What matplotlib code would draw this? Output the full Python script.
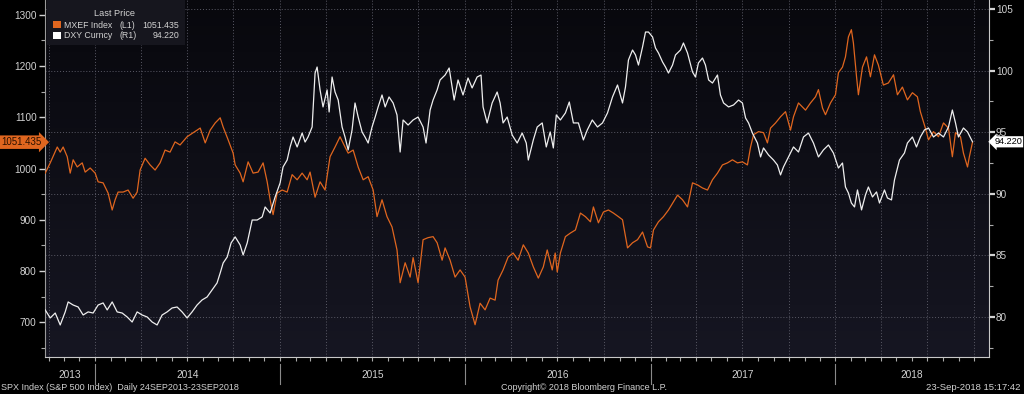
import datetime as dt
import numpy as np
import matplotlib
matplotlib.use("Agg")
import matplotlib.pyplot as plt
import matplotlib.dates as mdates
from matplotlib.transforms import blended_transform_factory
from matplotlib.patches import Rectangle
from matplotlib.lines import Line2D
from matplotlib.colors import LinearSegmentedColormap

# ---------------- data (decimal years) ----------------
mxef_t = [2013.730, 2013.757, 2013.795, 2013.811, 2013.827, 2013.849, 2013.865, 2013.881, 2013.903, 2013.930,
          2013.946, 2013.973, 2014.000, 2014.016, 2014.043, 2014.070, 2014.092, 2014.108, 2014.124, 2014.151,
          2014.178, 2014.205, 2014.227, 2014.243, 2014.270, 2014.297, 2014.324, 2014.351, 2014.378, 2014.405,
          2014.432, 2014.459, 2014.497, 2014.530, 2014.568, 2014.595, 2014.622, 2014.649, 2014.676, 2014.692,
          2014.719, 2014.746, 2014.757, 2014.784, 2014.800, 2014.827, 2014.854, 2014.881, 2014.908, 2014.930,
          2014.946, 2014.962, 2014.984, 2015.011, 2015.038, 2015.065, 2015.092, 2015.119, 2015.146, 2015.162,
          2015.189, 2015.216, 2015.243, 2015.270, 2015.297, 2015.324, 2015.351, 2015.368, 2015.395, 2015.422,
          2015.449, 2015.476, 2015.503, 2015.524, 2015.551, 2015.578, 2015.605, 2015.632, 2015.649, 2015.676,
          2015.703, 2015.719, 2015.746, 2015.773, 2015.800, 2015.827, 2015.849, 2015.876, 2015.892, 2015.919,
          2015.946, 2015.973, 2016.000, 2016.027, 2016.054, 2016.081, 2016.108, 2016.135, 2016.162, 2016.178,
          2016.205, 2016.232, 2016.259, 2016.286, 2016.314, 2016.341, 2016.368, 2016.395, 2016.422, 2016.443,
          2016.470, 2016.486, 2016.497, 2016.514, 2016.541, 2016.568, 2016.595, 2016.622, 2016.649, 2016.676,
          2016.692, 2016.719, 2016.746, 2016.773, 2016.800, 2016.827, 2016.849, 2016.876, 2016.903, 2016.930,
          2016.957, 2016.984, 2017.000, 2017.016, 2017.043, 2017.070, 2017.097, 2017.124, 2017.146, 2017.173,
          2017.200, 2017.227, 2017.254, 2017.281, 2017.308, 2017.335, 2017.362, 2017.389, 2017.416, 2017.443,
          2017.470, 2017.497, 2017.524, 2017.541, 2017.557, 2017.584, 2017.611, 2017.632, 2017.649, 2017.676,
          2017.703, 2017.730, 2017.757, 2017.773, 2017.800, 2017.838, 2017.865, 2017.892, 2017.908, 2017.930,
          2017.946, 2017.973, 2018.000, 2018.016, 2018.038, 2018.054, 2018.070, 2018.086, 2018.097, 2018.114,
          2018.124, 2018.146, 2018.168, 2018.189, 2018.211, 2018.232, 2018.259, 2018.286, 2018.314, 2018.335,
          2018.362, 2018.389, 2018.416, 2018.443, 2018.459, 2018.486, 2018.503, 2018.530, 2018.557, 2018.584,
          2018.611, 2018.632, 2018.649, 2018.676, 2018.692, 2018.714, 2018.724, 2018.741]
mxef_v = [991, 1011, 1042, 1032, 1042, 1023, 991, 1017, 1003, 1011,
          993, 1001, 991, 974, 972, 952, 919, 939, 954, 954,
          958, 942, 954, 997, 1020, 1007, 997, 1011, 1036, 1032,
          1052, 1046, 1062, 1070, 1079, 1050, 1075, 1089, 1099, 1081,
          1056, 1030, 1007, 991, 974, 1013, 991, 993, 1011, 974,
          939, 910, 952, 958, 954, 988, 978, 991, 978, 993,
          944, 974, 958, 1023, 1042, 1062, 1042, 1030, 1036, 1003,
          978, 984, 958, 906, 939, 906, 886, 841, 777, 816,
          788, 826, 777, 861, 865, 867, 855, 821, 845, 821,
          788, 802, 788, 730, 695, 737, 724, 747, 743, 782,
          802, 827, 835, 821, 851, 835, 808, 786, 808, 841,
          802, 835, 798, 835, 867, 874, 880, 913, 906, 896,
          925, 894, 915, 919, 913, 906, 900, 845, 855, 861,
          876, 847, 845, 880, 896, 906, 919, 935, 948, 939,
          925, 972, 968, 962, 958, 978, 991, 1007, 1011, 1017,
          1011, 1013, 1007, 1042, 1066, 1072, 1070, 1050, 1079, 1089,
          1101, 1111, 1075, 1101, 1128, 1114, 1128, 1140, 1154, 1118,
          1105, 1128, 1144, 1187, 1198, 1218, 1257, 1271, 1245, 1179,
          1144, 1198, 1218, 1179, 1222, 1202, 1163, 1167, 1183, 1144,
          1159, 1134, 1148, 1140, 1111, 1079, 1056, 1072, 1062, 1089,
          1079, 1023, 1070, 1062, 1030, 1003, 1023, 1051.435]

dxy_t = [2013.730, 2013.757, 2013.784, 2013.811, 2013.838, 2013.854, 2013.881, 2013.908, 2013.935, 2013.962,
         2013.989, 2014.016, 2014.043, 2014.065, 2014.092, 2014.119, 2014.146, 2014.173, 2014.200, 2014.227,
         2014.254, 2014.281, 2014.308, 2014.335, 2014.362, 2014.389, 2014.416, 2014.443, 2014.470, 2014.497,
         2014.524, 2014.551, 2014.578, 2014.605, 2014.632, 2014.659, 2014.676, 2014.692, 2014.714, 2014.735,
         2014.757, 2014.784, 2014.800, 2014.822, 2014.849, 2014.876, 2014.903, 2014.919, 2014.946, 2014.973,
         2015.000, 2015.016, 2015.038, 2015.054, 2015.070, 2015.092, 2015.119, 2015.135, 2015.151, 2015.173,
         2015.189, 2015.200, 2015.216, 2015.232, 2015.254, 2015.265, 2015.281, 2015.297, 2015.314, 2015.335,
         2015.351, 2015.368, 2015.389, 2015.405, 2015.422, 2015.443, 2015.459, 2015.476, 2015.497, 2015.514,
         2015.530, 2015.551, 2015.568, 2015.589, 2015.611, 2015.632, 2015.649, 2015.665, 2015.692, 2015.719,
         2015.746, 2015.773, 2015.789, 2015.811, 2015.827, 2015.849, 2015.865, 2015.892, 2015.914, 2015.930,
         2015.941, 2015.962, 2015.989, 2016.016, 2016.038, 2016.065, 2016.086, 2016.097, 2016.119, 2016.146,
         2016.173, 2016.189, 2016.205, 2016.227, 2016.254, 2016.281, 2016.308, 2016.330, 2016.341, 2016.368,
         2016.389, 2016.416, 2016.438, 2016.459, 2016.476, 2016.492, 2016.514, 2016.541, 2016.562, 2016.584,
         2016.611, 2016.638, 2016.659, 2016.686, 2016.714, 2016.741, 2016.768, 2016.795, 2016.822, 2016.849,
         2016.865, 2016.881, 2016.903, 2016.919, 2016.935, 2016.957, 2016.973, 2016.989, 2017.011, 2017.027,
         2017.043, 2017.065, 2017.081, 2017.097, 2017.119, 2017.135, 2017.162, 2017.178, 2017.200, 2017.227,
         2017.243, 2017.259, 2017.281, 2017.297, 2017.314, 2017.335, 2017.362, 2017.378, 2017.395, 2017.422,
         2017.449, 2017.476, 2017.497, 2017.514, 2017.530, 2017.551, 2017.578, 2017.595, 2017.611, 2017.638,
         2017.665, 2017.686, 2017.703, 2017.719, 2017.746, 2017.773, 2017.800, 2017.827, 2017.854, 2017.881,
         2017.908, 2017.935, 2017.962, 2017.989, 2018.016, 2018.038, 2018.054, 2018.070, 2018.086, 2018.103,
         2018.119, 2018.141, 2018.162, 2018.178, 2018.200, 2018.222, 2018.238, 2018.265, 2018.281, 2018.303,
         2018.319, 2018.346, 2018.373, 2018.389, 2018.416, 2018.438, 2018.459, 2018.481, 2018.503, 2018.530,
         2018.557, 2018.584, 2018.611, 2018.632, 2018.649, 2018.665, 2018.692, 2018.714, 2018.741]
dxy_v = [80.57, 79.92, 80.32, 79.35, 80.41, 81.22, 80.97, 80.81, 80.16, 80.41,
         80.32, 80.97, 81.14, 80.57, 81.22, 80.41, 80.32, 80.00, 79.59, 80.41,
         80.16, 80.00, 79.59, 79.35, 80.16, 80.41, 80.73, 80.81, 80.41, 79.92,
         80.41, 80.97, 81.38, 81.62, 82.19, 82.76, 83.57, 84.38, 84.87, 86.01,
         86.50, 85.84, 85.03, 86.01, 87.87, 87.87, 88.12, 88.93, 88.44, 89.74,
         90.88, 92.18, 92.74, 93.80, 94.61, 93.80, 94.93, 94.20, 94.61, 95.42,
         99.80, 100.29, 98.43, 97.05, 98.43, 96.64, 99.48, 98.26, 97.61, 95.42,
         94.61, 93.56, 95.18, 97.37, 96.23, 95.02, 94.61, 94.12, 95.42, 96.23,
         97.05, 98.02, 97.05, 97.86, 97.37, 96.40, 93.39, 95.99, 95.58, 95.99,
         96.23, 95.42, 94.12, 96.80, 97.61, 98.43, 99.24, 99.64, 100.21, 98.67,
         97.61, 99.24, 98.02, 99.40, 98.59, 99.48, 99.64, 97.05, 95.75, 97.37,
         98.26, 97.37, 95.75, 96.23, 94.77, 94.12, 94.93, 94.12, 92.74, 94.37,
         95.42, 95.75, 93.80, 95.02, 93.72, 96.40, 95.99, 96.56, 97.45, 95.75,
         95.75, 94.37, 95.18, 95.99, 95.42, 95.75, 96.56, 97.86, 98.83, 97.37,
         98.67, 100.86, 101.67, 101.27, 100.45, 101.92, 103.13, 103.13, 102.73, 101.83,
         101.43, 100.70, 100.29, 99.80, 100.45, 101.27, 101.67, 102.24, 101.43, 99.89,
         99.48, 100.62, 101.02, 100.45, 99.24, 98.99, 99.64, 98.02, 97.37, 97.05,
         97.21, 97.61, 97.37, 96.15, 95.75, 94.93, 94.12, 92.99, 93.72, 93.15,
         92.74, 92.34, 91.53, 92.18, 92.99, 93.80, 93.39, 94.61, 94.93, 94.12,
         92.99, 93.56, 93.96, 93.31, 92.09, 92.50, 90.55, 90.06, 89.25, 88.93,
         90.31, 88.69, 89.90, 90.55, 89.74, 90.15, 89.25, 90.31, 89.66, 89.50,
         91.12, 92.74, 93.31, 94.12, 94.61, 93.80, 94.61, 95.18, 95.34, 94.61,
         94.93, 94.61, 95.42, 96.80, 95.75, 94.61, 95.34, 95.02, 94.22]

mxef_last = "1051.435"
dxy_last = "94.220"
years = [2013, 2014, 2015, 2016, 2017, 2018]
left_ticks = [700, 800, 900, 1000, 1100, 1200, 1300]
right_ticks = [80, 85, 90, 95, 100, 105]

# ---------------- helpers ----------------
def dec2num(t):
    y = int(np.floor(t))
    start = dt.datetime(y, 1, 1)
    ndays = (dt.datetime(y + 1, 1, 1) - start).days
    return mdates.date2num(start + dt.timedelta(days=(t - y) * ndays))

mx_x = [dec2num(t) for t in mxef_t]
dx_x = [dec2num(t) for t in dxy_t]

TXT = "#d2d2d2"
ORANGE = "#e0661f"
WHITE = "#eeeeee"
GRID = "#5a5a66"
plt.rcParams['font.family'] = ['Liberation Sans', 'DejaVu Sans']

W, H = 1024, 394
fig = plt.figure(figsize=(W / 100, H / 100), dpi=100, facecolor="black")
L, R, B, T = 45, 989, 357, 0
ax = fig.add_axes([L / W, 1 - B / H, (R - L) / W, (B - T) / H])
ax2 = ax.twinx()

xmin = mdates.date2num(dt.datetime(2013, 9, 24))
xmax = mdates.date2num(dt.datetime(2018, 10, 31))

# background gradient
grad = np.linspace(0, 1, 256).reshape(-1, 1)
cmap = LinearSegmentedColormap.from_list("bg", ["#08080d", "#161622"])
ax.imshow(grad, extent=[0, 1, 0, 1], transform=ax.transAxes, aspect="auto",
          cmap=cmap, origin="upper", zorder=-10)

ax.set_xlim(xmin, xmax)
ax.set_ylim(632, 1329)
ax2.set_ylim(76.75, 105.73)
ax.set_autoscale_on(False)

# vertical quarterly dotted grid
ax.xaxis.set_major_locator(mdates.MonthLocator(bymonth=[1, 4, 7, 10]))
ax.xaxis.set_minor_locator(mdates.MonthLocator())
ax.xaxis.set_major_formatter(plt.NullFormatter())
ax.grid(True, axis="x", color=GRID, linestyle=(0, (1, 2)), linewidth=0.7, zorder=0)
# horizontal grid following right axis
bt = blended_transform_factory(ax.transAxes, ax2.transData)
for v in right_ticks:
    ax.add_line(Line2D([0, 1], [v, v], transform=bt, color=GRID,
                       linestyle=(0, (1, 2)), linewidth=0.7, zorder=0))

# lines
ax.plot(mx_x, mxef_v, color=ORANGE, linewidth=0.9, zorder=3)
ax2.plot(dx_x, dxy_v, color=WHITE, linewidth=0.9, zorder=3)
ax2.set_xlim(xmin, xmax)

# axes styling
for a in (ax, ax2):
    for s in a.spines.values():
        s.set_visible(False)
ax.spines["left"].set_visible(True)
ax.spines["left"].set_color("#9a9a9a")
ax.spines["bottom"].set_visible(True)
ax.spines["bottom"].set_color("#c8c8c8")
ax2.spines["right"].set_visible(True)
ax2.spines["right"].set_color("#c8c8c8")

ax.set_yticks(left_ticks)
ax.set_yticks(np.arange(650, 1330, 100), minor=True)
ax.tick_params(axis="y", which="major", colors=TXT, labelsize=7.2, length=4, width=1, pad=2, direction="out")
ax.tick_params(axis="y", which="minor", colors="#aaaaaa", length=3, width=0.8, direction="out")
ax.tick_params(axis="x", which="both", colors="#aaaaaa", length=3, width=0.8, direction="out", labelbottom=False)

ax2.set_yticks(right_ticks)
ax2.set_yticks(np.arange(77.5, 105, 5), minor=True)
ax2.tick_params(axis="y", which="major", colors=TXT, labelsize=7.2, length=4, width=1.6, pad=1, direction="out")
ax2.tick_params(axis="y", which="minor", colors="#aaaaaa", length=3, width=0.8, direction="out")

# year labels and separators
xt = blended_transform_factory(ax.transData, ax.transAxes)
for y in years:
    a0 = max(mdates.date2num(dt.datetime(y, 1, 1)), xmin)
    a1 = min(mdates.date2num(dt.datetime(y + 1, 1, 1)), xmax)
    ax.text((a0 + a1) / 2, -(375 - B) / (B - T), str(y), transform=xt, ha="center", va="center",
            color=TXT, fontsize=7.3)
    if y > years[0]:
        xs = mdates.date2num(dt.datetime(y, 1, 1))
        ax.add_line(Line2D([xs, xs], [-(364 - B) / (B - T), -(384 - B) / (B - T)], transform=xt,
                           color="#8a8a8a", linewidth=0.8, clip_on=False))

# last-value boxes
lt = blended_transform_factory(ax.transAxes, ax.transData)
ax.text(-0.046, 1051.435, mxef_last, transform=lt, ha="left", va="center", fontsize=7.0,
        color="#2a1000", bbox=dict(boxstyle="rarrow,pad=0.18", fc=ORANGE, ec="none"), clip_on=False, zorder=10)
rt = blended_transform_factory(ax2.transAxes, ax2.transData)
ax2.text(1.0055, 94.22, dxy_last, transform=rt, ha="left", va="center", fontsize=6.6,
         color="black", bbox=dict(boxstyle="larrow,pad=0.12", fc="white", ec="none"), clip_on=False, zorder=10)

# legend
def fx(p): return p / W
def fy(p): return 1 - p / H
fig.patches.append(Rectangle((fx(47), fy(45)), fx(185) - fx(47), fy(0) - fy(45), transform=fig.transFigure,
                             facecolor="#16161e", edgecolor="none", zorder=20))
LF = 6.3
fig.text(fx(115), fy(14), "Last Price", ha="center", va="center", color=TXT, fontsize=LF + 0.3, zorder=21)
fig.patches.append(Rectangle((fx(53), fy(28)), fx(8), 7 / H, transform=fig.transFigure,
                             facecolor=ORANGE, edgecolor="none", zorder=21))
fig.patches.append(Rectangle((fx(53), fy(39)), fx(8), 7 / H, transform=fig.transFigure,
                             facecolor="white", edgecolor="none", zorder=21))
fig.text(fx(64), fy(25), "MXEF Index", ha="left", va="center", color=TXT, fontsize=LF, zorder=21)
fig.text(fx(119), fy(25), "(L1)", ha="left", va="center", color=TXT, fontsize=LF, zorder=21)
fig.text(fx(179), fy(25), mxef_last, ha="right", va="center", color=TXT, fontsize=LF, zorder=21)
fig.text(fx(64), fy(36), "DXY Curncy", ha="left", va="center", color=TXT, fontsize=LF, zorder=21)
fig.text(fx(119), fy(36), "(R1)", ha="left", va="center", color=TXT, fontsize=LF, zorder=21)
fig.text(fx(179), fy(36), dxy_last, ha="right", va="center", color=TXT, fontsize=LF, zorder=21)

# footer
fig.text(fx(1), fy(388), "SPX Index (S&P 500 Index)  Daily 24SEP2013-23SEP2018", ha="left", va="center",
         color=TXT, fontsize=6.45)
fig.text(fx(584), fy(388), "Copyright\u00a9 2018 Bloomberg Finance L.P.", ha="center", va="center",
         color=TXT, fontsize=6.5)
fig.text(fx(1021), fy(388), "23-Sep-2018 15:17:42", ha="right", va="center", color=TXT, fontsize=6.8)

fig.savefig("out.png", dpi=100, facecolor="black")
